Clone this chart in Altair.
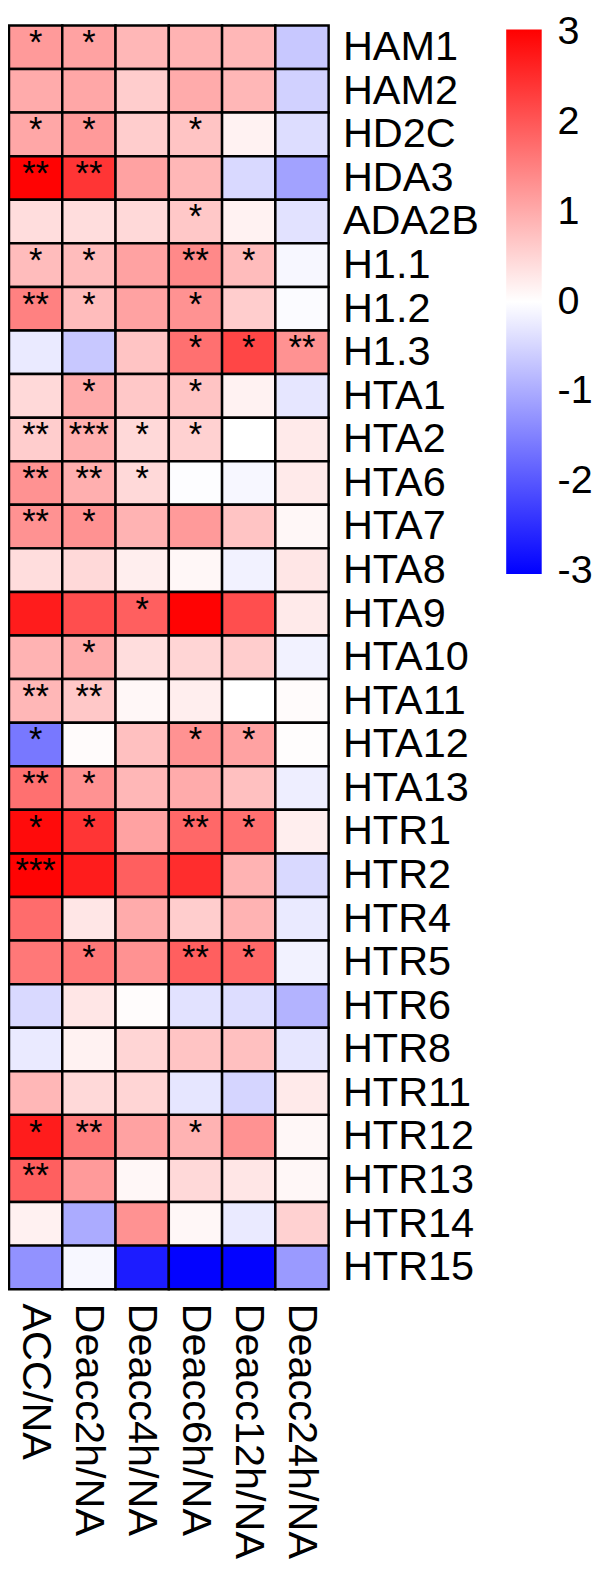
import altair as alt
import pandas as pd

genes = ["HAM1", "HAM2", "HD2C", "HDA3", "ADA2B", "H1.1", "H1.2", "H1.3",
         "HTA1", "HTA2", "HTA6", "HTA7", "HTA8", "HTA9", "HTA10", "HTA11",
         "HTA12", "HTA13", "HTR1", "HTR2", "HTR4", "HTR5", "HTR6", "HTR8",
         "HTR11", "HTR12", "HTR13", "HTR14", "HTR15"]
conditions = ["ACC/NA", "Deacc2h/NA", "Deacc4h/NA", "Deacc6h/NA", "Deacc12h/NA", "Deacc24h/NA"]

acc = [1.2, 1.0, 1.05, 3.0, 0.4, 0.8, 1.5, -0.25, 0.45, 0.6, 1.3, 1.3, 0.4, 2.7, 0.9,
       0.85, -1.6, 1.7, 2.9, 3.0, 1.75, 1.6, -0.45, -0.25, 0.85, 2.7, 1.9, 0.17, -1.3]
d2h = [1.1, 1.05, 1.2, 2.4, 0.4, 0.8, 0.8, -0.65, 1.0, 0.95, 0.95, 1.3, 0.45, 2.1, 1.0,
       0.65, 0.05, 1.3, 2.4, 2.7, 0.3, 1.6, 0.3, 0.15, 0.45, 1.6, 1.2, -1.0, -0.1]
d4h = [0.85, 0.6, 0.6, 1.1, 0.45, 1.1, 1.1, 0.7, 0.65, 0.45, 0.45, 0.9, 0.2, 1.9, 0.4,
       0.1, 0.75, 0.85, 1.1, 1.9, 1.0, 1.3, 0.03, 0.5, 0.5, 1.1, 0.1, 1.3, -2.7]
d6h = [0.9, 1.0, 0.7, 0.85, 0.65, 1.4, 1.3, 1.7, 0.7, 0.55, -0.02, 1.2, 0.1, 3.0, 0.5,
       0.2, 1.3, 1.0, 1.8, 2.5, 0.6, 1.9, -0.35, 0.7, -0.3, 0.9, 0.45, 0.1, -3.0]
d12h = [0.85, 0.85, 0.15, -0.45, 0.15, 0.8, 0.6, 2.2, 0.15, 0.0, -0.1, 0.7, -0.15, 2.1, 0.6,
        0.0, 1.1, 0.75, 1.7, 0.9, 0.9, 1.8, -0.4, 0.75, -0.5, 1.3, 0.3, -0.25, -3.0]
d24h = [-0.65, -0.55, -0.4, -1.1, -0.35, -0.1, -0.05, 1.3, -0.3, 0.25, 0.25, 0.1, 0.3, 0.25, -0.15,
        0.05, 0.02, -0.2, 0.2, -0.45, -0.25, -0.15, -0.9, -0.3, 0.25, 0.1, 0.1, 0.55, -1.2]

acc_sig = ["*", "", "*", "**", "", "*", "**", "", "", "**", "**", "**", "", "", "",
           "**", "*", "**", "*", "***", "", "", "", "", "", "*", "**", "", ""]
d2h_sig = ["*", "", "*", "**", "", "*", "*", "", "*", "***", "**", "*", "", "", "*",
           "**", "", "*", "*", "", "", "*", "", "", "", "**", "", "", ""]
d4h_sig = ["", "", "", "", "", "", "", "", "", "*", "*", "", "", "*", "",
           "", "", "", "", "", "", "", "", "", "", "", "", "", ""]
d6h_sig = ["", "", "*", "", "*", "**", "*", "*", "*", "*", "", "", "", "", "",
           "", "*", "", "**", "", "", "**", "", "", "", "*", "", "", ""]
d12h_sig = ["", "", "", "", "", "*", "", "*", "", "", "", "", "", "", "",
            "", "*", "", "*", "", "", "*", "", "", "", "", "", "", ""]
d24h_sig = ["", "", "", "", "", "", "", "**", "", "", "", "", "", "", "",
            "", "", "", "", "", "", "", "", "", "", "", "", "", ""]

legend_ticks = [-3, -2, -1, 0, 1, 2, 3]

values = [acc, d2h, d4h, d6h, d12h, d24h]
sigs = [acc_sig, d2h_sig, d4h_sig, d6h_sig, d12h_sig, d24h_sig]

rows = []
for c, vals, sg in zip(conditions, values, sigs):
    for g, v, s in zip(genes, vals, sg):
        rows.append({"gene": g, "cond": c, "value": v, "sig": s})
df = pd.DataFrame(rows)

FONT = "Liberation Sans"

x_enc = alt.X("cond:N", sort=conditions, title=None,
              scale=alt.Scale(paddingInner=0, paddingOuter=0),
              axis=alt.Axis(orient="bottom", labelAngle=90, labelAlign="left",
                            labelBaseline="middle", labelFontSize=42, labelFont=FONT,
                            labelColor="black", ticks=False, domain=False,
                            labelPadding=14, labelLimit=400))
y_enc = alt.Y("gene:N", sort=genes, title=None,
              scale=alt.Scale(paddingInner=0, paddingOuter=0),
              axis=alt.Axis(orient="right", labelFontSize=42, labelFont=FONT,
                            labelColor="black", ticks=False, domain=False,
                            labelPadding=14, labelLimit=400, labelAlign="left",
                            labelBaseline="middle"))

rects = alt.Chart(df).mark_rect(stroke="black", strokeWidth=2.5).encode(
    x=x_enc, y=y_enc,
    color=alt.Color("value:Q",
                    scale=alt.Scale(domain=[-3.03, 0, 3.03],
                                    range=["#0000ff", "#ffffff", "#ff0000"],
                                    interpolate="rgb"),
                    legend=alt.Legend(orient="none", legendX=504, legendY=4,
                                      title=None, direction="vertical",
                                      gradientLength=552, gradientThickness=36,
                                      gradientStrokeWidth=0,
                                      labelFontSize=40, labelFont=FONT,
                                      labelColor="black", labelOffset=16,
                                      labelBaseline="middle",
                                      labelExpr="'' + datum.value",
                                      values=legend_ticks,
                                      padding=0, labelOverlap=False))
)

stars = alt.Chart(df).mark_text(fontSize=35, dy=-4, baseline="middle",
                                font=FONT, color="black").encode(
    x=alt.X("cond:N", sort=conditions),
    y=alt.Y("gene:N", sort=genes),
    text="sig:N"
)

chart = (rects + stars).properties(
    width=324, height=1281,
    autosize=alt.AutoSizeParams(type="none"),
    padding={"left": 1, "top": 7, "right": 269, "bottom": 277}
).configure_view(strokeWidth=0).configure(background="white")

chart.save("out.html", embed_options={"renderer": "svg", "actions": False})
